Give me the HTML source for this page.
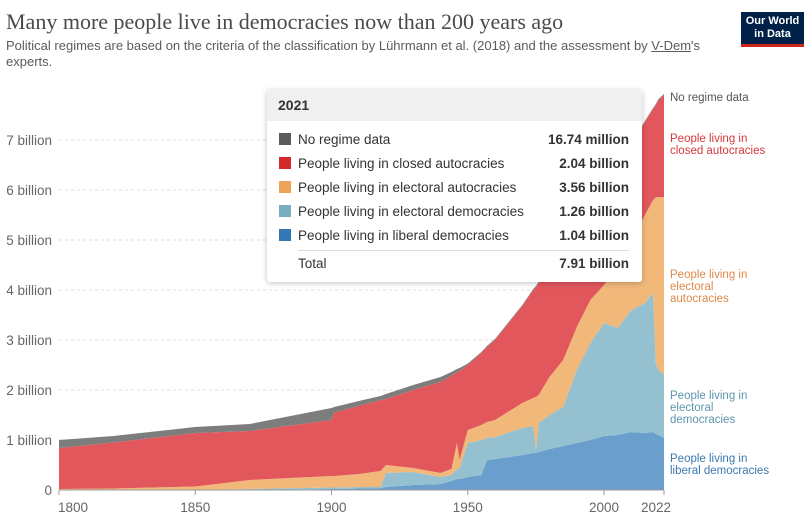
<!DOCTYPE html>
<html><head><meta charset="utf-8">
<style>
body{margin:0;background:#fff;font-family:"Liberation Sans",sans-serif;}
#wrap{position:relative;width:812px;height:522px;overflow:hidden;}
.title{position:absolute;left:6px;top:9px;font-family:"Liberation Serif",serif;font-size:22px;color:#4a4a4a;}
.sub{position:absolute;left:6px;top:38px;width:720px;font-size:13px;color:#5b5b5b;line-height:16px;}
.logo{position:absolute;left:741px;top:12px;width:63px;height:35px;background:#002147;color:#fff;font-size:11px;font-weight:bold;text-align:center;line-height:13px;padding-top:3px;box-sizing:border-box;border-bottom:3px solid #ce261e;}
.tip{position:absolute;left:267px;top:90px;width:375px;height:192px;background:#fff;box-shadow:0 1px 6px rgba(0,0,0,.25);border-radius:3px;font-size:13.5px;color:#333;}
.tiph{height:31px;background:#f0f0f0;font-weight:bold;line-height:30px;padding-left:11px;font-size:14px;}
.row{position:absolute;left:12px;right:13px;height:20px;line-height:20px;}
.row i{display:inline-block;width:12px;height:12px;margin-right:7px;vertical-align:-1px;}
.row b{position:absolute;right:0;}
</style></head><body>
<div id="wrap">
<div class="title">Many more people live in democracies now than 200 years ago</div>
<div class="sub">Political regimes are based on the criteria of the classification by Lührmann et al. (2018) and the assessment by <u>V-Dem</u>'s experts.</div>
<div class="logo">Our World<br>in Data</div>
<svg id="chart" width="812" height="522" style="position:absolute;left:0;top:0"></svg>
<div class="tip">
<div class="tiph">2021</div>
<div class="row" style="top:40px"><i style="background:#5b5b5b"></i>No regime data<b>16.74 million</b></div>
<div class="row" style="top:64px"><i style="background:#d42a2a"></i>People living in closed autocracies<b>2.04 billion</b></div>
<div class="row" style="top:88px"><i style="background:#eea15a"></i>People living in electoral autocracies<b>3.56 billion</b></div>
<div class="row" style="top:112px"><i style="background:#76aec1"></i>People living in electoral democracies<b>1.26 billion</b></div>
<div class="row" style="top:136px"><i style="background:#3178b5"></i>People living in liberal democracies<b>1.04 billion</b></div>
<div style="position:absolute;left:31px;right:13px;top:160px;border-top:1px solid #ddd"></div>
<div class="row" style="top:164px;left:31px">Total<b>7.91 billion</b></div>
</div>
</div>
<script>
const years=[1800,1820,1850,1870,1900,1901,1910,1918,1920,1930,1940,1944,1946,1947,1950,1955,1957,1960,1970,1974,1975,1976,1980,1985,1990,1995,2000,2005,2010,2015,2018,2019,2020,2022];
const liberal=[0,0,0,0,0.02,0.02,0.03,0.03,0.06,0.1,0.12,0.18,0.22,0.22,0.26,0.3,0.6,0.62,0.7,0.74,0.74,0.76,0.82,0.88,0.94,1.0,1.08,1.1,1.16,1.14,1.16,1.12,1.1,1.04];
const electoralDem=[0,0,0,0.02,0.03,0.03,0.03,0.03,0.28,0.26,0.14,0.12,0.2,0.22,0.68,0.7,0.44,0.44,0.54,0.54,0.06,0.58,0.68,0.78,1.46,1.94,2.26,2.14,2.44,2.6,2.78,1.42,1.3,1.26];
const electoralAuto=[0.02,0.03,0.07,0.18,0.23,0.23,0.26,0.32,0.16,0.08,0.08,0.12,0.52,0.16,0.26,0.3,0.32,0.34,0.5,0.56,1.06,0.56,0.76,0.94,0.86,0.86,0.76,1.26,1.4,1.76,1.86,3.31,3.46,3.56];
const closedAuto=[0.82,0.92,1.07,0.98,1.12,1.27,1.36,1.42,1.32,1.56,1.82,1.86,1.42,1.78,1.3,1.44,1.5,1.6,1.94,2.16,2.2,2.24,2.16,2.24,2.04,1.92,2.02,2.0,1.9,1.86,1.82,1.85,1.94,2.04];
const noData=[0.16,0.13,0.12,0.14,0.24,0.11,0.1,0.08,0.1,0.1,0.1,0.08,0.06,0.06,0.03,0.02,0.02,0.02,0.02,0.02,0.02,0.02,0.02,0.02,0.02,0.02,0.02,0.02,0.02,0.02,0.02,0.02,0.02,0.02];
const yTicks=[0,1,2,3,4,5,6,7];
const yTickLabels=["0","1 billion","2 billion","3 billion","4 billion","5 billion","6 billion","7 billion"];
const xTicks=[1800,1850,1900,1950,2000,2022];

const NS="http://www.w3.org/2000/svg";
const svg=document.getElementById('chart');
const x0=59,x1=664,y0=490;
const xs=v=>x0+(v-1800)/(2022-1800)*(x1-x0);
const ys=v=>y0-v*50;
function mk(t,a){const e=document.createElementNS(NS,t);for(const k in a)e.setAttribute(k,a[k]);svg.appendChild(e);return e;}
yTicks.forEach((t,i)=>{
  if(t>0){const l=mk('line',{x1:x0,x2:x1,y1:ys(t),y2:ys(t),stroke:'#ddd','stroke-dasharray':'3,3'});
  
  }
  const tx=mk('text',{x:52,y:ys(t)+5,'text-anchor':'end','font-size':'13.5','fill':'#666','font-family':'Liberation Sans'});
  tx.textContent=yTickLabels[i];
  
  
});
const series=[liberal,electoralDem,electoralAuto,closedAuto,noData];
const colors=['#6a9fcd','#95c0d0','#f1b87a','#e2575b','#7d7d7d'];
const names=['area-liberal-democracies','area-electoral-democracies','area-electoral-autocracies','area-closed-autocracies','area-no-regime-data'];
let base=years.map(()=>0);
series.forEach((s,k)=>{
  const top=base.map((b,i)=>b+s[i]);
  let d='M'+years.map((y,i)=>xs(y).toFixed(1)+','+ys(top[i]).toFixed(1)).join('L');
  for(let i=years.length-1;i>=0;i--)d+='L'+xs(years[i]).toFixed(1)+','+ys(base[i]).toFixed(1);
  const p=mk('path',{d:d+'Z',fill:colors[k]});
  
  
  base=top;
});
mk('line',{x1:x0,x2:x1,y1:y0,y2:y0,stroke:'#999'});
xTicks.forEach(t=>{
  mk('line',{x1:xs(t),x2:xs(t),y1:y0,y2:y0+5,stroke:'#999'});
  const tx=mk('text',{x:xs(t)+(t==1800?14:t==2022?-8:0),y:y0+22,'text-anchor':'middle','font-size':'13.5','fill':'#666','font-family':'Liberation Sans'});
  tx.textContent=t;
  
  
});
const labels=[[97,'#555',['No regime data']],[138,'#d6393d',['People living in','closed autocracies']],[274,'#e0894a',['People living in','electoral','autocracies']],[395,'#5d96ad',['People living in','electoral','democracies']],[458,'#3b79b1',['People living in','liberal democracies']]];
labels.forEach(([y,c,ls])=>{
  ls.forEach((s,j)=>{
    const tx=mk('text',{x:670,y:y+4+j*12,'font-size':'11.5','fill':c,'font-family':'Liberation Sans'});
    tx.textContent=s;
    
    
  });
});
</script>
</body></html>
